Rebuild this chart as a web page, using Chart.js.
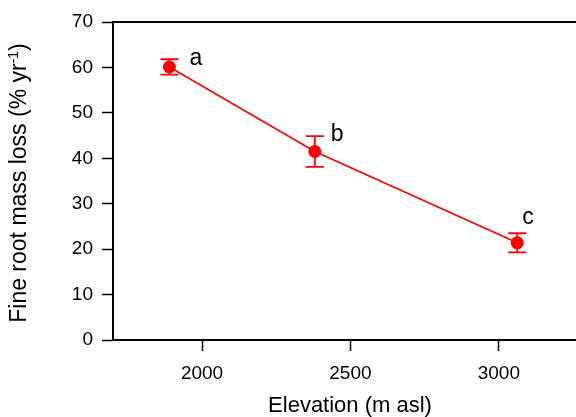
<!DOCTYPE html>
<html>
<head>
<meta charset="utf-8">
<script src="https://cdn.jsdelivr.net/npm/chart.js@4/dist/chart.umd.min.js"></script>
<style>
  html, body { margin: 0; padding: 0; background: #fff; }
  #wrap { width: 576px; height: 417px; }
</style>
</head>
<body>
<div id="wrap"><canvas id="chart"></canvas></div>
<script>
// data
const elevation = [1890, 2380, 3062];
const massLoss = [60.1, 41.5, 21.4];
const massLossErr = [1.7, 3.4, 2.1];
const groupLetters = ['a', 'b', 'c'];
const xTicks = [2000, 2500, 3000];
const yTicks = [0, 10, 20, 30, 40, 50, 60, 70];

// where each letter sits relative to its point (px)
const letterOffsets = [[20, -2], [16, -10], [5, -19]];

const FONT = '"Liberation Sans", Arial, sans-serif';
const RED = '#ff0000';

const errorBars = {
  id: 'errorBars',
  afterDatasetsDraw(chart) {
    const { ctx, scales: { x, y } } = chart;
    ctx.save();
    ctx.strokeStyle = RED;
    ctx.lineWidth = 1.8;
    elevation.forEach((e, i) => {
      const px = x.getPixelForValue(e);
      const top = y.getPixelForValue(massLoss[i] + massLossErr[i]);
      const bot = y.getPixelForValue(massLoss[i] - massLossErr[i]);
      ctx.beginPath();
      ctx.moveTo(px, top); ctx.lineTo(px, bot);
      ctx.moveTo(px - 9, top); ctx.lineTo(px + 9, top);
      ctx.moveTo(px - 9, bot); ctx.lineTo(px + 9, bot);
      ctx.stroke();
    });
    // group letters
    ctx.fillStyle = '#000';
    ctx.font = '23px ' + FONT;
    ctx.textAlign = 'left';
    ctx.textBaseline = 'alphabetic';
    elevation.forEach((e, i) => {
      const px = x.getPixelForValue(e) + letterOffsets[i][0];
      const py = y.getPixelForValue(massLoss[i]) + letterOffsets[i][1];
      ctx.fillText(groupLetters[i], px, py);
    });
    // top frame line
    const a = chart.chartArea;
    ctx.strokeStyle = '#000';
    ctx.lineWidth = 2;
    ctx.beginPath();
    ctx.moveTo(a.left - 1, a.top);
    ctx.lineTo(a.right, a.top);
    ctx.stroke();
    ctx.restore();
  }
};

const axisTitles = {
  id: 'axisTitles',
  afterDraw(chart) {
    const { ctx } = chart;
    ctx.save();
    ctx.fillStyle = '#000';
    ctx.textBaseline = 'alphabetic';

    // x title (the original plot frame runs past the right edge, so it is off-centre)
    ctx.font = '22px ' + FONT;
    ctx.textAlign = 'center';
    ctx.fillText('Elevation (m asl)', 350, 412);

    // y title with superscript
    const main = 'Fine root mass loss (% yr';
    const sup = '-1';
    const end = ')';
    ctx.translate(26, 183);
    ctx.rotate(-Math.PI / 2);
    ctx.textAlign = 'left';
    ctx.font = '23px ' + FONT;
    const w1 = ctx.measureText(main).width;
    const w3 = ctx.measureText(end).width;
    ctx.font = '14px ' + FONT;
    const w2 = ctx.measureText(sup).width;
    let sx = -(w1 + w2 + w3) / 2;
    ctx.font = '23px ' + FONT;
    ctx.fillText(main, sx, 0);
    sx += w1;
    ctx.font = '14px ' + FONT;
    ctx.fillText(sup, sx, -8);
    sx += w2;
    ctx.font = '23px ' + FONT;
    ctx.fillText(end, sx, 0);
    ctx.restore();
  }
};

new Chart(document.getElementById('chart'), {
  type: 'scatter',
  data: {
    datasets: [{
      data: elevation.map((e, i) => ({ x: e, y: massLoss[i] })),
      showLine: true,
      borderColor: RED,
      borderWidth: 1.6,
      backgroundColor: RED,
      pointRadius: 6.5,
      pointHoverRadius: 6.5,
      pointBorderWidth: 0
    }]
  },
  options: {
    responsive: true,
    maintainAspectRatio: false,
    animation: false,
    layout: { autoPadding: false, padding: { top: 22, right: 0, left: 0, bottom: 0 } },
    plugins: { legend: { display: false }, tooltip: { enabled: false } },
    scales: {
      x: {
        type: 'linear',
        min: 1700,
        max: 3260,
        afterBuildTicks: axis => { axis.ticks = xTicks.map(v => ({ value: v })); },
        afterFit: axis => { axis.height = 77; },
        grid: { drawOnChartArea: false, drawTicks: true, tickLength: 11, tickColor: '#000', tickWidth: 1.5 },
        border: { color: '#000', width: 2 },
        ticks: { color: '#000', padding: 11, font: { family: FONT, size: 19 }, callback: v => String(v) }
      },
      y: {
        min: 0,
        max: 70,
        afterBuildTicks: axis => { axis.ticks = yTicks.map(v => ({ value: v })); },
        afterFit: axis => { axis.width = 113; },
        grid: { drawOnChartArea: false, drawTicks: true, tickLength: 11, tickColor: '#000', tickWidth: 1.5 },
        border: { color: '#000', width: 2 },
        ticks: { color: '#000', padding: 9, font: { family: FONT, size: 19 }, callback: v => String(v) }
      }
    }
  },
  plugins: [errorBars, axisTitles]
});
</script>
</body>
</html>
